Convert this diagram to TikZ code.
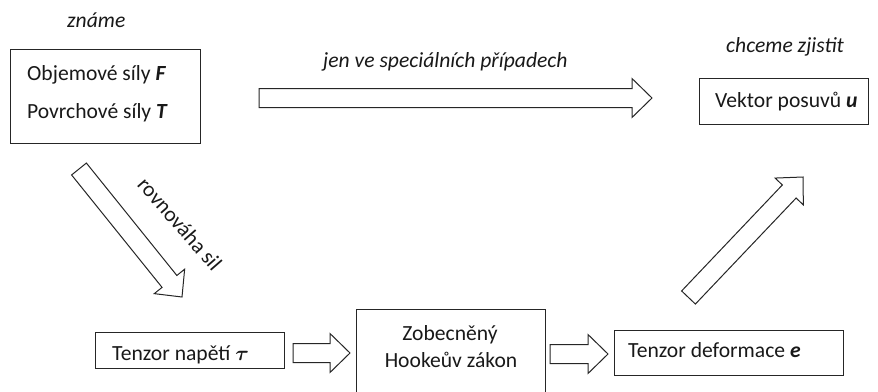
\documentclass[tikz,border=0pt]{standalone}
\usepackage{fontspec}
\usepackage{amsmath}
\setmainfont{Carlito}
\usetikzlibrary{calc}
\newcommand\bsw{9.5pt}
\newcommand\bhw{19.5pt}
\newcommand\bhl{20pt}
\newcommand\blockarrow[2]{%
  \draw[barrow]
    ($(#1)!\bsw!90:(#2)$)
    -- ($(#2)!\bhl!(#1)!\bsw!-90:(#1)$)
    -- ($(#2)!\bhl!(#1)!\bhw!-90:(#1)$)
    -- (#2)
    -- ($(#2)!\bhl!(#1)!\bhw!90:(#1)$)
    -- ($(#2)!\bhl!(#1)!\bsw!90:(#1)$)
    -- ($(#1)!\bsw!-90:(#2)$)
    -- cycle;}
\tikzset{
  box/.style={draw=black!85, line width=1pt, rectangle, inner sep=0pt, anchor=north west},
  barrow/.style={draw=black!85, line width=1pt, fill=white, line join=miter},
  lbl/.style={inner sep=0pt, font=\itshape, text=black!90},
  txt/.style={inner sep=0pt, text=black!90, anchor=base west},
}
\begin{document}
\begin{tikzpicture}[x=1pt, y=-1pt]
\fontsize{21.6}{26}\selectfont
\useasboundingbox (0,0) rectangle (878,391);
\clip (0,0) rectangle (878,391);
% boxes
\node[box, minimum width=190pt, minimum height=94pt] (forces) at (10,49) {};
\node[box, minimum width=169pt, minimum height=46pt] (vektor) at (699,78) {};
\node[box, minimum width=189pt, minimum height=36pt] (napeti) at (95,332) {};
\node[box, minimum width=189pt, minimum height=110pt] (hooke) at (356,309) {};
\node[box, minimum width=229pt, minimum height=45pt] (deform) at (614,330) {};
% texts
\node[lbl, anchor=base west] (znamo) at (67,27) {známe};
\node[lbl, anchor=base west] (spec) at (323,67) {jen ve speciálních případech};
\node[lbl, anchor=base west] (chceme) at (726,52) {chceme zjistit};
\node[txt] (obj) at (27,80) {Objemové síly \textbf{\textit{F}}};
\node[txt] (povr) at (27,118) {Povrchové síly \textbf{\textit{T}}};
\node[txt] (vektorT) at (715,107) {Vektor posuvů \textbf{\textit{u}}};
\node[txt] (napetiT) at (112,360) {Tenzor napětí $\boldsymbol{\tau}$};
\node[txt, anchor=base] (zob) at (450,340) {Zobecněný};
\node[txt, anchor=base] (hookeT) at (451,367) {Hookeův zákon};
\node[txt] (deformT) at (628,357) {Tenzor deformace \textbf{\textit{e}}};
\node[inner sep=0pt, text=black!90, rotate=-49] (rovn) at (180,224) {rovnováha sil};
% arrow end points
\coordinate (a1s) at (259,98);
\coordinate (a1e) at (652,98);
\coordinate (a2s) at (79,169);
\coordinate (a2e) at (182,297);
\coordinate (a3s) at (293,353);
\coordinate (a3e) at (350,353);
\coordinate (a4s) at (550,354);
\coordinate (a4e) at (608,354);
\coordinate (a5s) at (688.5,297.5);
\coordinate (a5e) at (803,177);
\blockarrow{a1s}{a1e}
\blockarrow{a2s}{a2e}
\blockarrow{a3s}{a3e}
\blockarrow{a4s}{a4e}
\blockarrow{a5s}{a5e}
\end{tikzpicture}
\end{document}
